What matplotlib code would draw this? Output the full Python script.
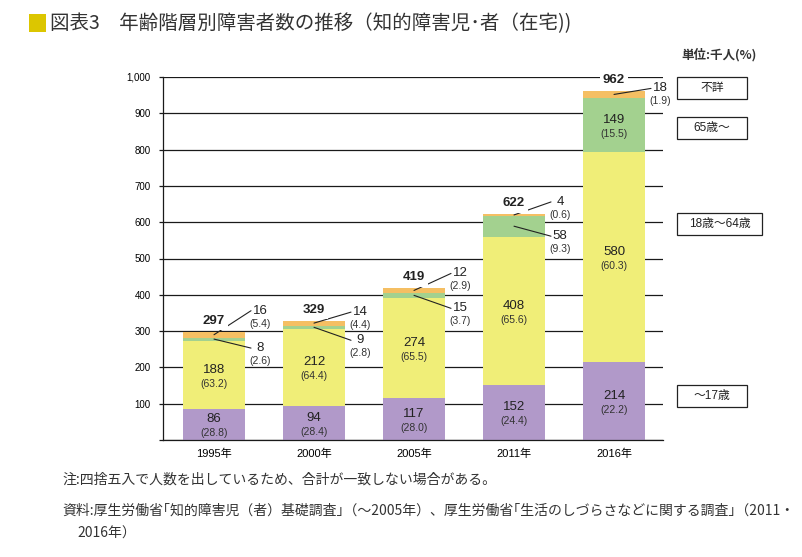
import matplotlib
matplotlib.use("Agg")
import matplotlib.pyplot as plt
from matplotlib.patches import Rectangle
import numpy as np

JP = ['Noto Sans CJK JP', 'DejaVu Sans']
NUM = ['Liberation Sans', 'Noto Sans CJK JP', 'DejaVu Sans']
plt.rcParams['font.family'] = NUM

# data (thousand persons, share in %)
years = ['1995年', '2000年', '2005年', '2011年', '2016年']
under17 = [86, 94, 117, 152, 214]
age18_64 = [188, 212, 274, 408, 580]
over65 = [8, 9, 15, 58, 149]
unknown = [16, 14, 12, 4, 18]
totals = [297, 329, 419, 622, 962]
pct_under17 = [28.8, 28.4, 28.0, 24.4, 22.2]
pct_18_64 = [63.2, 64.4, 65.5, 65.6, 60.3]
pct_over65 = [2.6, 2.8, 3.7, 9.3, 15.5]
pct_unknown = [5.4, 4.4, 2.9, 0.6, 1.9]
group_names = ['～17歳', '18歳～64歳', '65歳～', '不詳']

c_purple = '#b199c9'
c_yellow = '#f0ee78'
c_green = '#a3d18f'
c_orange = '#f5bf63'

fig = plt.figure(figsize=(8.03, 5.57), dpi=100)
ax = fig.add_axes([163/803, 1-440/557, 500/803, 363/557])

x = np.arange(len(years))
w = 0.62
b1 = np.array(under17)
b2 = b1 + np.array(age18_64)
b3 = b2 + np.array(over65)
ax.bar(x, under17, w, color=c_purple, zorder=2)
ax.bar(x, age18_64, w, bottom=b1, color=c_yellow, zorder=2)
ax.bar(x, over65, w, bottom=b2, color=c_green, zorder=2)
ax.bar(x, unknown, w, bottom=b3, color=c_orange, zorder=2)

ax.set_xlim(-0.51, 4.49)
ax.set_ylim(0, 1000)
ax.set_yticks(range(0, 1001, 100))
ax.set_yticklabels(['' if v == 0 else f'{v:,}' for v in range(0, 1001, 100)], fontsize=7)
ax.yaxis.grid(True, color='#1a1a1a', lw=0.9, zorder=1)
ax.set_axisbelow(True)
ax.set_xticks(x)
ax.set_xticklabels(years, fontsize=8, family=NUM)
ax.tick_params(axis='x', length=0, pad=6)
ax.tick_params(axis='y', length=3, width=0.9, pad=6, color='#1a1a1a')
for s in ['top', 'right']:
    ax.spines[s].set_visible(False)
for s in ['left', 'bottom']:
    ax.spines[s].set_color('#1a1a1a')
    ax.spines[s].set_linewidth(0.9)


def inside(xi, mid, val, pct):
    ax.annotate(str(val), (xi, mid), xytext=(0, 5), textcoords='offset pixels',
                ha='center', va='center', fontsize=9.5, color='#222', zorder=4)
    ax.annotate(f'({pct:.1f})', (xi, mid), xytext=(0, -9), textcoords='offset pixels',
                ha='center', va='center', fontsize=7.5, color='#333', zorder=4)


def outside(xi, mid, val, pct, dy):
    ax.annotate('', (xi, mid), xytext=(37, dy), textcoords='offset pixels',
                arrowprops=dict(arrowstyle='-', lw=0.8, color='#222',
                                shrinkA=0, shrinkB=0), zorder=4)
    ax.annotate(str(val), (xi, mid), xytext=(46, dy), textcoords='offset pixels',
                ha='center', va='center', fontsize=9.5, color='#222', zorder=4)
    ax.annotate(f'({pct:.1f})', (xi, mid), xytext=(46, dy - 13), textcoords='offset pixels',
                ha='center', va='center', fontsize=7.5, color='#333', zorder=4)


# leader label offsets (pixels) for small segments
dy_unknown = [24, 11, 17, 13, 6]
dy_over65 = [-9, -13, -13, -10, None]

for i in range(len(years)):
    inside(x[i], under17[i] / 2, under17[i], pct_under17[i])
    inside(x[i], b1[i] + age18_64[i] / 2, age18_64[i], pct_18_64[i])
    if dy_over65[i] is None:
        inside(x[i], b2[i] + over65[i] / 2, over65[i], pct_over65[i])
    else:
        outside(x[i], b2[i] + over65[i] / 2, over65[i], pct_over65[i], dy_over65[i])
    outside(x[i], b3[i] + unknown[i] / 2, unknown[i], pct_unknown[i], dy_unknown[i])
    ax.annotate(str(totals[i]), (x[i], b3[i] + unknown[i]), xytext=(0, 11),
                textcoords='offset pixels', ha='center', va='center',
                fontsize=9.5, fontweight='bold', color='#222', zorder=5,
                bbox=dict(boxstyle='square,pad=0.25', fc='white', ec='none'))

# group boxes on the right
boxes = [(677, 385, 70, 22), (677, 213, 85, 22), (677, 117, 70, 22), (677, 77, 70, 22)]
for name, (bx, by, bw, bh) in zip(group_names, boxes):
    fig.patches.append(Rectangle((bx/803, 1-(by+bh)/557), bw/803, bh/557,
                                 transform=fig.transFigure, fc='white',
                                 ec='#222', lw=0.9))
    fig.text((bx + bw/2)/803, 1-(by + bh/2)/557, name, ha='center', va='center',
             fontsize=8.5, family=NUM, color='#222')

fig.text(757/803, 1-55/557, '単位:千人(%)', ha='right', va='center',
         fontsize=9, family=JP, fontweight='bold', color='#333')

# title
fig.patches.append(Rectangle((29/803, 1-32/557), 17/803, 18/557,
                             transform=fig.transFigure, fc='#dcc600', ec='none'))
fig.text(50/803, 1-24/557, '図表3　年齢階層別障害者数の推移（知的障害児･者（在宅))',
         ha='left', va='center', fontsize=14, family=JP, color='#333')

# notes
fig.text(62/803, 1-480/557, '注:四捨五入で人数を出しているため、合計が一致しない場合がある。',
         ha='left', va='center', fontsize=10, family=JP, color='#333')
fig.text(62/803, 1-511/557,
         '資料:厚生労働省｢知的障害児（者）基礎調査｣（～2005年）、厚生労働省｢生活のしづらさなどに関する調査｣（2011・',
         ha='left', va='center', fontsize=10, family=JP, color='#333')
fig.text(77/803, 1-534/557, '2016年）', ha='left', va='center', fontsize=10,
         family=JP, color='#333')

fig.savefig('out.png', dpi=100)
